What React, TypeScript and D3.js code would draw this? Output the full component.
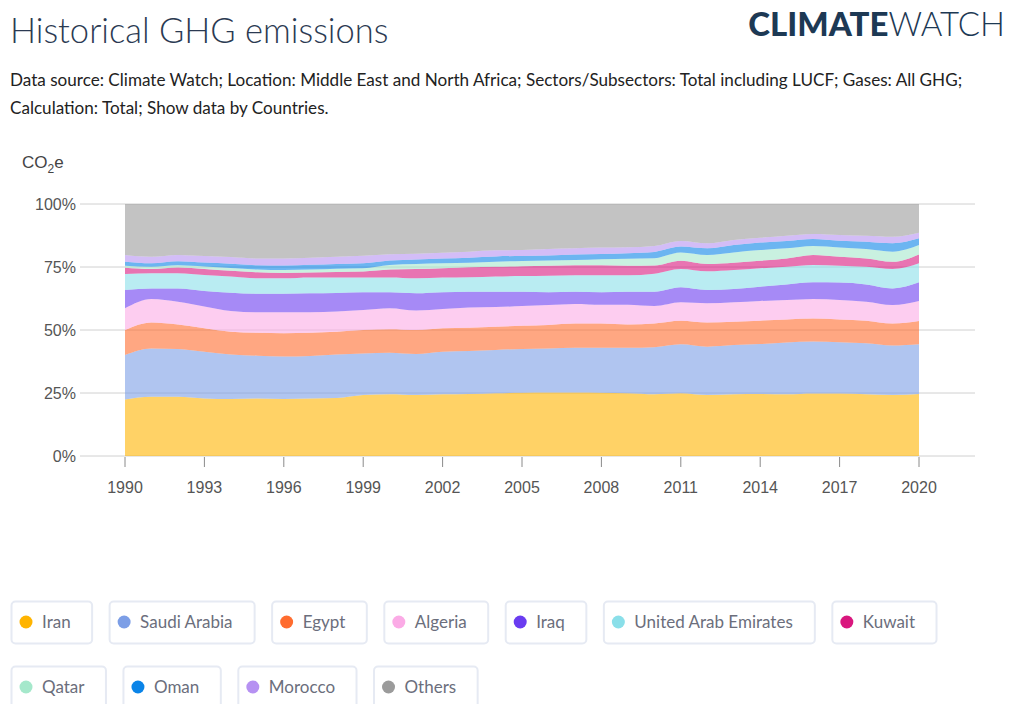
import React, { useMemo } from "react";
import * as d3 from "d3";

// values, share of the region's total (%)
const years = [
  1990, 1991, 1992, 1993, 1994, 1995, 1996, 1997, 1998, 1999, 2000, 2001, 2002, 2003, 2004, 2005,
  2006, 2007, 2008, 2009, 2010, 2011, 2012, 2013, 2014, 2015, 2016, 2017, 2018, 2019, 2020,
];
const iran = [22.4, 23.5, 23.5, 22.8, 22.6, 22.8, 22.6, 22.8, 23.0, 24.2, 24.5, 24.2, 24.5, 24.6, 24.9, 25.1, 25.2, 25.2, 25.1, 24.9, 24.5, 24.9, 24.2, 24.5, 24.6, 24.5, 24.8, 24.8, 24.5, 24.2, 24.6];
const saudiArabia = [17.7, 19.2, 19.0, 18.6, 17.7, 17.0, 16.9, 16.9, 17.3, 16.5, 16.5, 16.3, 16.9, 17.1, 17.2, 17.4, 17.5, 17.8, 17.9, 18.1, 18.7, 19.4, 19.2, 19.5, 19.8, 20.5, 20.6, 20.3, 20.2, 19.6, 19.7];
const egypt = [9.9, 10.3, 9.7, 9.3, 9.0, 9.1, 9.2, 9.2, 9.0, 9.3, 9.3, 9.5, 9.3, 9.2, 9.2, 9.2, 9.3, 9.6, 9.6, 9.2, 9.4, 9.4, 9.6, 9.3, 9.3, 9.2, 9.2, 9.1, 9.0, 8.8, 9.3];
const algeria = [8.6, 9.3, 9.0, 8.6, 8.2, 8.1, 8.3, 8.1, 8.0, 7.9, 8.3, 7.7, 7.6, 8.0, 7.8, 7.8, 7.9, 7.7, 7.4, 7.8, 6.9, 7.3, 7.6, 7.7, 7.8, 7.7, 7.7, 7.7, 7.5, 7.3, 7.9];
const iraq = [7.3, 4.2, 5.3, 6.2, 7.3, 7.4, 7.4, 7.6, 7.4, 7.1, 6.4, 6.9, 6.7, 6.3, 6.1, 5.7, 5.1, 4.9, 5.0, 5.2, 5.7, 6.0, 5.3, 5.3, 5.7, 6.2, 6.6, 6.9, 6.9, 6.6, 7.4];
const uae = [6.3, 6.0, 6.0, 6.3, 6.4, 6.1, 6.1, 6.2, 6.1, 5.8, 5.8, 5.9, 5.8, 5.7, 6.0, 6.2, 6.5, 6.5, 6.7, 6.5, 7.1, 7.2, 7.4, 7.5, 7.3, 7.0, 6.9, 6.7, 7.0, 7.7, 7.6];
const kuwait = [2.5, 1.7, 2.3, 2.4, 2.3, 2.4, 2.1, 2.0, 2.2, 2.4, 3.2, 3.7, 3.7, 4.0, 3.9, 3.9, 4.0, 4.0, 4.0, 3.8, 3.3, 3.3, 2.9, 2.9, 3.0, 3.3, 4.0, 3.6, 3.3, 2.9, 3.5];
const qatar = [0.8, 0.9, 0.9, 1.0, 1.1, 1.1, 1.2, 1.2, 1.3, 1.3, 1.8, 2.0, 2.0, 1.8, 2.0, 2.1, 2.1, 2.1, 2.4, 2.8, 2.9, 3.3, 3.6, 4.1, 4.2, 4.0, 3.5, 3.6, 3.7, 4.0, 3.7];
const oman = [1.6, 1.4, 1.6, 1.6, 1.7, 1.7, 1.8, 1.9, 1.9, 2.0, 1.8, 1.8, 1.9, 2.0, 2.1, 2.0, 2.0, 2.2, 2.1, 2.2, 2.5, 2.3, 2.6, 2.9, 3.0, 2.9, 2.8, 2.7, 2.9, 3.3, 2.7];
const morocco = [2.7, 2.6, 2.5, 2.6, 2.7, 2.7, 2.8, 2.8, 2.9, 3.0, 2.5, 2.3, 2.3, 2.4, 2.4, 2.3, 2.5, 2.4, 2.5, 2.3, 2.3, 2.2, 2.0, 2.0, 1.9, 2.1, 2.0, 2.3, 2.4, 2.6, 2.2];
const others = [20.2, 20.9, 20.2, 20.6, 21.0, 21.6, 21.6, 21.3, 20.9, 20.5, 19.9, 19.7, 19.3, 18.9, 18.4, 18.3, 17.9, 17.6, 17.3, 17.2, 16.7, 14.7, 15.6, 14.3, 13.4, 12.6, 11.9, 12.3, 12.6, 13.0, 11.4];

const countries = ["Iran", "Saudi Arabia", "Egypt", "Algeria", "Iraq", "United Arab Emirates", "Kuwait", "Qatar", "Oman", "Morocco", "Others"];
const seriesValues = [iran, saudiArabia, egypt, algeria, iraq, uae, kuwait, qatar, oman, morocco, others];
const colors = ["#ffb400", "#7c9ee6", "#ff6c2f", "#fbabe6", "#6a3cf0", "#8adfe9", "#d9177e", "#a5e8cb", "#0a84e8", "#b691f2", "#9b9b9b"];
const yTicks = [0, 25, 50, 75, 100];
const xTicks = [1990, 1993, 1996, 1999, 2002, 2005, 2008, 2011, 2014, 2017, 2020];

const W = 1013;
const H = 704;
const axisFont = "'Liberation Sans', Arial, sans-serif";
const uiFont = "Lato, 'Open Sans', sans-serif";

const measure = (txt: string, font: string) => {
  const ctx = document.createElement("canvas").getContext("2d");
  if (!ctx) return txt.length * 8;
  ctx.font = font;
  return ctx.measureText(txt).width;
};

const App = () => {
  const x = d3.scaleLinear().domain([1990, 2020]).range([125, 919]);
  const y = d3.scaleLinear().domain([0, 100]).range([456, 204]);

  const rows = years.map((yr, i) => {
    const r: any = { year: yr };
    countries.forEach((c, j) => (r[c] = seriesValues[j][i]));
    return r;
  });
  const stacked = d3.stack().keys(countries)(rows);
  const area = d3
    .area<any>()
    .x((d) => x(d.data.year))
    .y0((d) => y(d[0]))
    .y1((d) => y(d[1]))
    .curve(d3.curveMonotoneX);

  // legend chips, wrapped into rows
  const legend = useMemo(() => {
    const out: { name: string; color: string; x: number; y: number; w: number }[] = [];
    let cx = 11;
    let row = 0;
    countries.forEach((c, i) => {
      const w = 31 + measure(c, `17px Lato`) + 21;
      if (cx + w > 990) {
        row += 1;
        cx = 11;
      }
      out.push({ name: c, color: colors[i], x: cx, y: 601 + row * 65, w });
      cx += w + 17.5;
    });
    return out;
  }, []);

  return (
    <svg
      width={W}
      height={H}
      style={{ position: "absolute", left: 0, top: 0, background: "#fff" }}
    >
      <text x={10} y={43} fontFamily={uiFont} fontWeight={300} fontSize={34.5} fill="#2b3a52">
        Historical GHG emissions
      </text>
      <text x={1005} y={36} textAnchor="end" fontFamily={uiFont} fontSize={33} fill="#1d3954">
        <tspan fontWeight={900}>CLIMATE</tspan>
        <tspan fontWeight={300}>WATCH</tspan>
      </text>
      <text fontFamily={uiFont} fontSize={17.1} fill="#222">
        <tspan x={10} y={86}>
          Data source: Climate Watch; Location: Middle East and North Africa; Sectors/Subsectors: Total including LUCF; Gases: All GHG;
        </tspan>
        <tspan x={10} y={114}>
          Calculation: Total; Show data by Countries.
        </tspan>
      </text>

      <text x={22} y={168} fontFamily={axisFont} fontSize={17} fill="#444">
        CO<tspan fontSize={12} dy={5}>2</tspan>
        <tspan dy={-5}>e</tspan>
      </text>

      {yTicks.map((t) => (
        <g key={t}>
          <line x1={80} x2={975} y1={y(t)} y2={y(t)} stroke="#d0d0d0" strokeWidth={1} />
          <text
            x={76}
            y={y(t)}
            dy="0.35em"
            textAnchor="end"
            fontFamily={axisFont}
            fontSize={16}
            fill="#555"
          >
            {t}%
          </text>
        </g>
      ))}

      {stacked.map((s, i) => (
        <path key={s.key} d={area(s as any) || ""} fill={colors[i]} fillOpacity={0.6} />
      ))}

      {xTicks.map((t) => (
        <g key={t}>
          <line x1={x(t)} x2={x(t)} y1={457} y2={467} stroke="#8a8a8a" strokeWidth={1} />
          <text
            x={x(t)}
            y={493}
            textAnchor="middle"
            fontFamily={axisFont}
            fontSize={16}
            fill="#555"
          >
            {t}
          </text>
        </g>
      ))}

      {legend.map((l) => (
        <g key={l.name}>
          <rect
            x={l.x + 0.5}
            y={l.y + 0.5}
            width={l.w}
            height={42}
            rx={4}
            fill="#fff"
            stroke="#e6eaf3"
            strokeWidth={2}
          />
          <circle cx={l.x + 15} cy={l.y + 21} r={6.5} fill={l.color} />
          <text x={l.x + 31} y={l.y + 27} fontFamily={uiFont} fontSize={17} fill="#6b6e7c">
            {l.name}
          </text>
        </g>
      ))}
    </svg>
  );
};

export default App;
